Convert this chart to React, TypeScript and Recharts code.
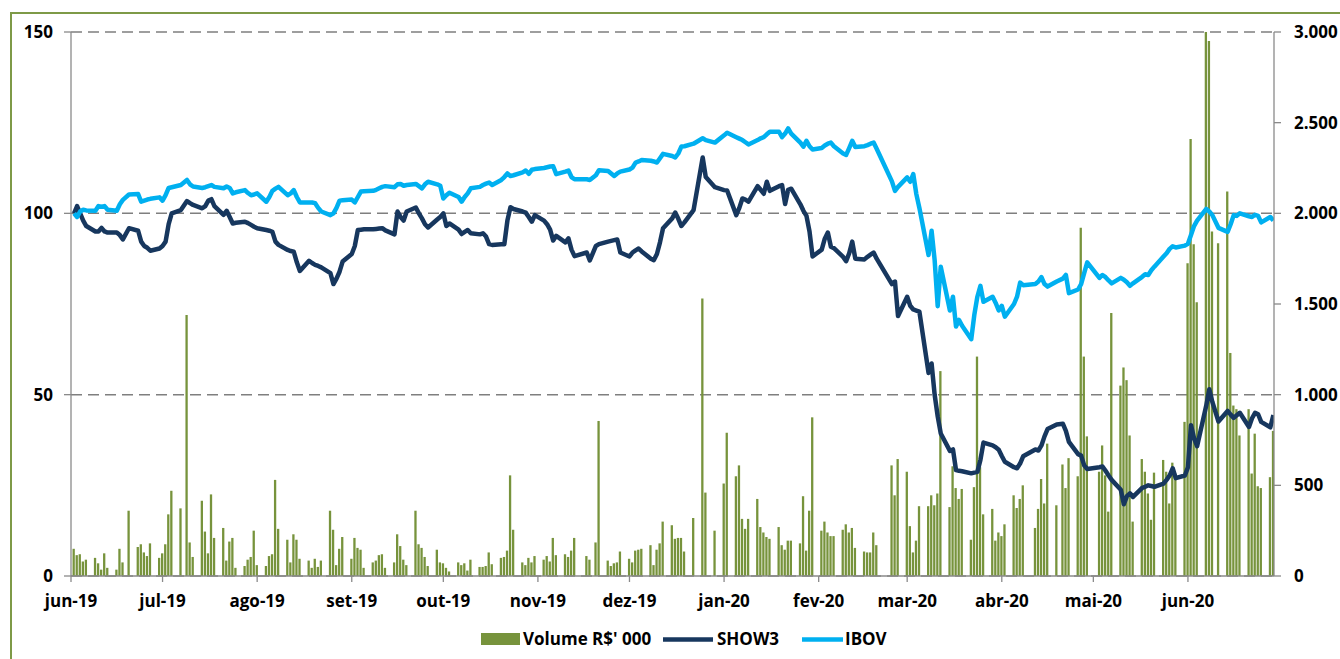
import React from 'react';
import { ComposedChart, Bar, Line, XAxis, YAxis, CartesianGrid } from 'recharts';

// First trading week starts Monday 2019-06-03; each row = Mon..Fri, null = market holiday
const FIRST_MONDAY = Date.UTC(2019, 5, 3);

const monthLabels = ['jun-19', 'jul-19', 'ago-19', 'set-19', 'out-19', 'nov-19', 'dez-19', 'jan-20', 'fev-20', 'mar-20', 'abr-20', 'mai-20', 'jun-20'];
const leftTicks = [0, 50, 100, 150];
const rightTicks = [0, 500, 1000, 1500, 2000, 2500, 3000];

const volumeWeeks: (number | null)[][] = [
  [150, 115, 120, 80, 90], [100, 70, 35, 125, 45], [35, 150, 75, null, 360], [160, 175, 130, 110, 180],
  [100, 125, 175, 340, 470], [373, null, 1440, 185, 105], [415, 245, 125, 450, 210], [265, 85, 190, 210, 45],
  [55, 90, 105, 250, 60], [55, 110, 120, 530, 260], [200, 75, 230, 200, 95], [85, 45, 95, 50, 85],
  [360, 255, 60, 150, 215], [95, 210, 155, 145, 45], [75, 85, 115, 120, 45], [75, 230, 165, 90, 60],
  [360, 175, 155, 105, 55], [145, 75, 70, 45, 25], [75, 60, 70, 30, 90], [50, 50, 55, 130, 65],
  [100, 105, 140, 555, 255], [75, 60, 100, 75, 110], [90, 110, 80, 210, 115], [120, 105, 140, 210, null],
  [110, 90, null, 185, 855], [85, 55, 70, 75, 135], [95, 75, 140, 145, 150], [170, 60, 145, 180, 300],
  [280, 205, 210, 210, 135], [320, null, null, 1530, 460], [250, null, null, 510, 790], [550, 610, 315, 260, 315],
  [425, 270, 240, 215, 205], [270, 170, 145, 195, 195], [180, 440, 140, 360, 875], [250, 300, 240, 220, 220],
  [255, 285, 240, 265, 155], [135, 130, 130, 240, 170], [null, null, 610, 445, 645], [575, 275, 130, 195, 385],
  [385, 445, 390, 455, 1130], [380, 605, 485, 425, 480], [200, 490, 1210, 600, 340], [370, 195, 240, 220, 285],
  [445, 375, 425, 500, null], [265, 370, 535, 400, 730], [390, null, 615, 485, 650], [550, 1920, 1210, 770, null],
  [575, 720, 555, 355, 1450], [1050, 1150, 1080, 775, 300], [645, 575, 455, 310, 570], [640, 575, 400, 625, 565],
  [850, 1725, 2410, 1830, 1510], [3000, 2950, 1900, null, 1835], [2120, 1230, 940, 920, 775], [920, 565, 785, 495, 485],
  [545, 800],
];

const show3Weeks: (number | null)[][] = [
  [100, 102, 100, 98, 96.5], [95, 95, 96, 95, 94.7], [94.7, 94, 92.8, null, 95.9], [95.2, 92.2, 91, 90.5, 89.7],
  [90.3, 91, 92.2, 97, 100], [100.9, null, 103.4, 102.8, 102.3], [101.4, 102, 103.5, 103.9, 102], [99.6, 100.7, 99, 97.2, 97.4],
  [97.7, 97.3, 96.8, 96.3, 95.9], [95.4, 95.2, 94.9, 92.2, 91.3], [89.9, 89.6, 89.4, 86.5, 84.1], [86.9, 86.3, 85.8, 85.5, 85.1],
  [83.5, 80.5, 82, 83.9, 86.7], [88.8, 91, 95.4, 95.5, 95.6], [95.6, 95.7, 95.8, 95.9, 95.3], [94.2, 100.5, 99, 98, 100.5],
  [101.6, 100, 98.6, 97, 96.1], [98.3, 99, 100, 96.5, 97.2], [95.5, 94.3, 94.9, 95.4, 94.5], [94.2, 94.5, 93.6, 91.5, 91.3],
  [91.5, 91.5, 98, 101.7, 101.2], [100.5, 100.2, 99, 97.7, 99.5], [98, 97, 95.5, 92.5, 93.8], [92, 93.1, 90, 88.2, null],
  [89.2, 87, null, 91, 91.5], [92.2, 92.4, 92.6, 92.8, 89.2], [88.1, 89.2, 89.8, 90.3, 89.5], [87.5, 87.1, 88.8, 92, 95.9],
  [98.6, 100.2, 98.5, 96.5, 97.5], [100.9, null, null, 115.4, 110], [107.2, null, null, 106.4, 106.3], [99.5, 101.5, 104.1, 103.8, 103.2],
  [107.5, 106.5, 105.4, 108.7, 106.2], [107.5, 107.8, 102.6, 106.5, 106.8], [102.5, 100.7, 99.3, 95, 88.1], [90, 93, 94.7, 90.8, 90.4],
  [88, 86.8, 89, 92.2, 87.5], [87.3, 88, 88.6, 89.2, 87.5], [null, null, 80.5, 81.2, 71.7], [77, 74.5, 73.5, 73.2, 72.9],
  [56, 58.6, 50, 44, 39.3], [34.5, 34.9, 29.2, 29, 28.9], [28.3, 28.5, 28.7, 32, 36.8], [36, 35.5, 34.8, 33.1, 31.5],
  [30, 29.7, 31, 33, null], [34.9, 34.6, 36, 38.5, 40.5], [41.8, null, 42, 40, 37], [33.6, 33.2, 30.5, 29.5, null],
  [30, 30.2, 29, 27.7, 26.5], [23.8, 19.8, 22, 22.8, 21.8], [24.3, 24.6, 25, 24.8, 24.6], [25.5, 26.5, 27.7, 29.7, 27],
  [27.7, 30, 41.6, 38, 35.8], [47, 51.5, 48, null, 42.6], [45.5, 44.5, 43.6, 44.3, 45], [41.1, 43.5, 45, 44.6, 42.5],
  [41, 44.4],
];

const ibovWeeks: (number | null)[][] = [
  [100, 99, 100.5, 101, 100.8], [100.7, 102, 101.8, 102, 101], [100.7, 102.5, 103.7, null, 105.2], [105.3, 103.2, 103.5, 103.8, 104],
  [104.4, 103.5, 105, 107, 107.2], [107.8, null, 109.2, 108, 107.4], [107, 107.2, 107.5, 107.8, 107.3], [106.9, 107.4, 107, 105.5, 105.8],
  [106.4, 105.6, 105, 105.2, 105.5], [103.2, 104.5, 106.2, 106.8, 107.3], [105, 105.5, 106.4, 104.5, 103], [103, 103, 102.8, 101.5, 100.5],
  [99.5, 100, 101.5, 103.5, 103.6], [103.8, 103, 104.5, 106, 106.1], [106.2, 106.5, 106.9, 107.3, 107.5], [107.2, 108, 108.1, 107.6, 107.8],
  [108.1, 107.5, 106.9, 108, 108.7], [108, 107.6, 104.1, 105, 105.7], [104.5, 103.2, 104.5, 105.5, 106.9], [107.3, 107.8, 108.2, 108.5, 107.8],
  [109.2, 110, 111, 110.3, 110.5], [111.3, 111.8, 110.9, 112, 112.2], [112.5, 112.7, 112.9, 113, 110.8], [111.5, 111.8, 110, 109.4, null],
  [109.4, 109.2, null, 110.5, 111.9], [111.7, 111, 110.3, 111, 111.5], [112.1, 112.6, 114, 114.3, 114.7], [114.5, 114.3, 114, 115.2, 116.4],
  [115.8, 115.4, 116.5, 118.4, 118.5], [119.2, null, null, 120.7, 120.2], [119.5, null, null, 121.5, 122.2], [121, 120.6, 120.2, 119.6, 119],
  [120.2, 120.7, 121, 121.8, 122.5], [122.5, 121, 122, 123.4, 122], [119.5, 118.4, 120, 118.5, 117.6], [118, 118.7, 119.2, 119.5, 118.5],
  [116.5, 116.1, 118, 120, 118.3], [118.5, 118.8, 119.2, 119.5, 117.8], [null, null, 108.8, 106.2, 107.3], [109.9, 108.7, 110.8, 105.3, 101.5],
  [88.5, 95.2, 87.1, 74.4, 85.3], [73.2, 77, 68.8, 70.6, 69], [65.3, 72, 77, 80, 75.6], [77, 75.3, 73.2, 74.5, 71.5],
  [75, 77, 80.9, 80.2, null], [80.5, 81.2, 82.4, 80.5, 79.8], [81.2, null, 82, 83, 78], [79, 80.5, 83.5, 86.5, null],
  [82.2, 83, 82.4, 81.5, 80.7], [82.2, 81.7, 81, 80, 80.7], [82.5, 83.2, 83, 84.3, 85.3], [88.1, 89, 90.2, 90.9, 90.6],
  [91.1, 91.6, 94, 96.5, 98], [101.2, 100.5, 99.5, null, 96], [94.9, 97, 99.5, 99.3, 100], [99.2, 99, 99.6, 99.3, 97.5],
  [99, 98],
];

type Row = { d: number; vol: number; show3: number | null; ibov: number | null };
const data: Row[] = [];
volumeWeeks.forEach((week, k) => {
  week.forEach((v, j) => {
    if (v === null) return;
    data.push({ d: 7 * k + j, vol: v, show3: show3Weeks[k][j], ibov: ibovWeeks[k][j] });
  });
});

// month ticks: the 2nd day of each month, as day offsets from the first Monday
const tickDays = monthLabels.map((_, i) => Math.round((Date.UTC(2019, 5 + i, 2) - FIRST_MONDAY) / 86400000));
const labelFor = (v: number) => {
  const i = tickDays.indexOf(v);
  return i >= 0 ? monthLabels[i] : '';
};
const fmtThousands = (v: number) => (v >= 1000 ? `${Math.floor(v / 1000)}.${String(v % 1000).padStart(3, '0')}` : String(v));

const FONT = '"Open Sans", "Liberation Sans", sans-serif';
const tickStyle = { fontFamily: FONT, fontWeight: 700, fontSize: 17, fill: '#000' };
const AXIS = '#8a8a8a';

export default function App() {
  return (
    <div style={{ position: 'fixed', left: 0, top: 0, width: 1340, height: 659, overflow: 'hidden', background: '#fff' }}>
      <div style={{ position: 'absolute', left: 10, top: 12, width: 1400, height: 700, borderLeft: '2px solid #7E9A47', borderTop: '2px solid #7E9A47' }} />
      <div style={{ position: 'absolute', left: 0, top: 0 }}>
        <ComposedChart width={1340} height={659} data={data} margin={{ top: 32, right: 0, bottom: 0, left: 0 }}>
          <CartesianGrid yAxisId="left" vertical={false} stroke="#7f7f7f" strokeWidth={1.5} strokeDasharray="11 6" />
          <XAxis
            dataKey="d"
            type="number"
            domain={[-1, 393.2]}
            allowDataOverflow
            ticks={tickDays}
            interval={0}
            tickFormatter={labelFor}
            height={83}
            tickSize={6}
            tickMargin={13}
            tick={tickStyle}
            axisLine={{ stroke: AXIS, strokeWidth: 1.3 }}
            tickLine={{ stroke: AXIS, strokeWidth: 1.3 }}
          />
          <YAxis
            yAxisId="left"
            width={71}
            domain={[0, 150]}
            ticks={leftTicks}
            interval={0}
            tickSize={7}
            tickMargin={11}
            tick={tickStyle}
            axisLine={{ stroke: AXIS, strokeWidth: 1.3 }}
            tickLine={{ stroke: AXIS, strokeWidth: 1.3 }}
          />
          <YAxis
            yAxisId="right"
            orientation="right"
            width={66}
            domain={[0, 3000]}
            ticks={rightTicks}
            interval={0}
            tickFormatter={fmtThousands}
            tickSize={7}
            tickMargin={13}
            tick={tickStyle}
            axisLine={{ stroke: AXIS, strokeWidth: 1.3 }}
            tickLine={{ stroke: AXIS, strokeWidth: 1.3 }}
          />
          <Bar yAxisId="right" dataKey="vol" fill="#77933C" barSize={2.3} isAnimationActive={false} />
          <Line yAxisId="left" type="linear" dataKey="show3" stroke="#17375E" strokeWidth={4.5} dot={false} activeDot={false} strokeLinejoin="round" isAnimationActive={false} />
          <Line yAxisId="left" type="linear" dataKey="ibov" stroke="#00B0F0" strokeWidth={4.5} dot={false} activeDot={false} strokeLinejoin="round" isAnimationActive={false} />
        </ComposedChart>
      </div>
      <svg width={1340} height={659} style={{ position: 'absolute', left: 0, top: 0, pointerEvents: 'none' }}>
        <rect x={481} y={633} width={39} height={12} fill="#77933C" />
        <text x={523} y={645} style={{ fontFamily: FONT, fontWeight: 700, fontSize: 17 }} fill="#000">Volume R$' 000</text>
        <line x1={663} y1={639.5} x2={713} y2={639.5} stroke="#17375E" strokeWidth={4.5} />
        <text x={717} y={645} style={{ fontFamily: FONT, fontWeight: 700, fontSize: 17 }} fill="#000">SHOW3</text>
        <line x1={802} y1={639.5} x2={843} y2={639.5} stroke="#00B0F0" strokeWidth={4.5} />
        <text x={845} y={645} style={{ fontFamily: FONT, fontWeight: 700, fontSize: 17 }} fill="#000">IBOV</text>
      </svg>
    </div>
  );
}
